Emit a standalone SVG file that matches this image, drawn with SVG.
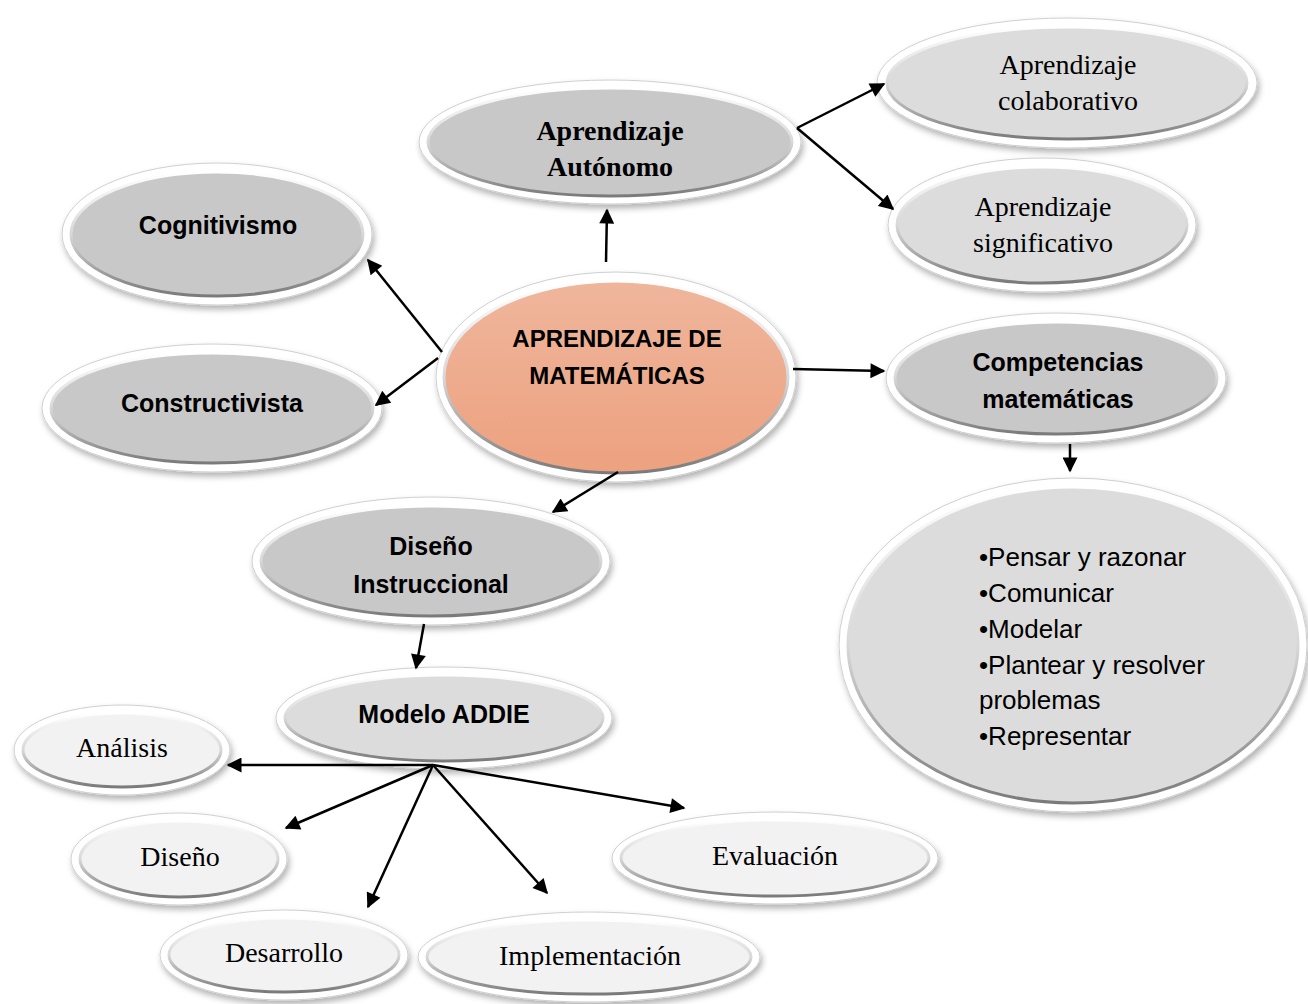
<svg xmlns="http://www.w3.org/2000/svg" width="1308" height="1004" viewBox="0 0 1308 1004">
<style>
.ring{fill:#ffffff;stroke:#cfcfcf;stroke-width:1;filter:url(#sh)}
.in{stroke:url(#bev);stroke-width:3}
.dark{fill:#c9c8c9}
.mid{fill:#dcdcdc}
.light{fill:#f2f2f2}
.main{fill:url(#salmon)}
.sb{font-family:"Liberation Sans",Arial,sans-serif;font-weight:bold;font-size:25px;fill:#000;text-anchor:middle}
.sr{font-family:"Liberation Sans",Arial,sans-serif;font-size:26px;fill:#000}
.tb{font-family:"Liberation Serif","Times New Roman",serif;font-weight:bold;font-size:28px;fill:#000;text-anchor:middle}
.tr{font-family:"Liberation Serif","Times New Roman",serif;font-size:28px;fill:#000;text-anchor:middle}
.ar{stroke:#000;stroke-width:2.5;fill:none;marker-end:url(#ah)}
</style>
<defs>
<filter id="sh" x="-10%" y="-10%" width="125%" height="130%">
<feDropShadow dx="2" dy="4" stdDeviation="3" flood-color="#000" flood-opacity="0.3"/>
</filter>
<linearGradient id="bev" x1="0" y1="0" x2="0" y2="1">
<stop offset="0" stop-color="#ffffff"/>
<stop offset="0.5" stop-color="#d8d8d8"/>
<stop offset="1" stop-color="#7a7a7a"/>
</linearGradient>
<linearGradient id="salmon" x1="0" y1="0" x2="0" y2="1">
<stop offset="0" stop-color="#efb69c"/>
<stop offset="1" stop-color="#eda17f"/>
</linearGradient>
<marker id="ah" viewBox="0 0 10 10" refX="9" refY="5" markerUnits="userSpaceOnUse" markerWidth="18" markerHeight="15" orient="auto">
<path d="M0,0 L10,5 L0,10 z" fill="#000"/>
</marker>
</defs>
<rect width="1308" height="1004" fill="#ffffff"/>

<g id="n-autonomo">
<ellipse class="ring" cx="610" cy="142" rx="191" ry="62"/>
<ellipse class="in dark" cx="610" cy="142" rx="182" ry="54"/>
<text class="tb" x="610" y="140">Aprendizaje</text>
<text class="tb" x="610" y="176">Autónomo</text>
</g>

<g id="n-colaborativo">
<ellipse class="ring" cx="1067" cy="83" rx="190" ry="65"/>
<ellipse class="in mid" cx="1067" cy="83" rx="180" ry="56"/>
<text class="tr" x="1068" y="74">Aprendizaje</text>
<text class="tr" x="1068" y="110">colaborativo</text>
</g>

<g id="n-significativo">
<ellipse class="ring" cx="1042" cy="225" rx="154" ry="67"/>
<ellipse class="in mid" cx="1042" cy="225" rx="145" ry="58"/>
<text class="tr" x="1043" y="216">Aprendizaje</text>
<text class="tr" x="1043" y="252">significativo</text>
</g>

<g id="n-cognitivismo">
<ellipse class="ring" cx="217" cy="234" rx="155" ry="71"/>
<ellipse class="in dark" cx="217" cy="234" rx="146" ry="62"/>
<text class="sb" x="218" y="234">Cognitivismo</text>
</g>

<g id="n-constructivista">
<ellipse class="ring" cx="212" cy="408" rx="170" ry="64"/>
<ellipse class="in dark" cx="212" cy="408" rx="161" ry="55"/>
<text class="sb" x="212" y="412">Constructivista</text>
</g>

<g id="n-main">
<ellipse class="ring" cx="616" cy="377" rx="180" ry="105"/>
<ellipse class="in main" cx="616" cy="377" rx="172" ry="96"/>
<text class="sb" x="617" y="347" style="font-size:24px">APRENDIZAJE DE</text>
<text class="sb" x="617" y="384" style="font-size:24px">MATEMÁTICAS</text>
</g>

<g id="n-competencias">
<ellipse class="ring" cx="1056" cy="378" rx="170" ry="65"/>
<ellipse class="in dark" cx="1056" cy="378" rx="161" ry="56"/>
<text class="sb" x="1058" y="371">Competencias</text>
<text class="sb" x="1058" y="408">matemáticas</text>
</g>

<g id="n-lista">
<ellipse class="ring" cx="1073" cy="645" rx="234" ry="167"/>
<ellipse class="in mid" cx="1073" cy="645" rx="225" ry="158"/>
<text class="sr" x="979" y="566">•Pensar y razonar</text>
<text class="sr" x="979" y="602">•Comunicar</text>
<text class="sr" x="979" y="638">•Modelar</text>
<text class="sr" x="979" y="674">•Plantear y resolver</text>
<text class="sr" x="979" y="709">problemas</text>
<text class="sr" x="979" y="745">•Representar</text>
</g>

<g id="n-diseno-instr">
<ellipse class="ring" cx="431" cy="561" rx="179" ry="64"/>
<ellipse class="in dark" cx="431" cy="561" rx="170" ry="55"/>
<text class="sb" x="431" y="555">Diseño</text>
<text class="sb" x="431" y="593">Instruccional</text>
</g>

<g id="n-addie">
<ellipse class="ring" cx="444" cy="718" rx="168" ry="51"/>
<ellipse class="in mid" cx="444" cy="718" rx="159" ry="43"/>
<text class="sb" x="444" y="723">Modelo ADDIE</text>
</g>

<g id="n-analisis">
<ellipse class="ring" cx="122" cy="750" rx="108" ry="45"/>
<ellipse class="in light" cx="122" cy="750" rx="99" ry="37"/>
<text class="tr" x="122" y="757">Análisis</text>
</g>

<g id="n-diseno">
<ellipse class="ring" cx="179" cy="859" rx="108" ry="46"/>
<ellipse class="in light" cx="179" cy="859" rx="99" ry="38"/>
<text class="tr" x="180" y="866">Diseño</text>
</g>

<g id="n-desarrollo">
<ellipse class="ring" cx="284" cy="955" rx="124" ry="45"/>
<ellipse class="in light" cx="284" cy="955" rx="115" ry="37"/>
<text class="tr" x="284" y="962">Desarrollo</text>
</g>

<g id="n-implementacion">
<ellipse class="ring" cx="589" cy="957" rx="171" ry="45"/>
<ellipse class="in light" cx="589" cy="957" rx="162" ry="37"/>
<text class="tr" x="590" y="965">Implementación</text>
</g>

<g id="n-evaluacion">
<ellipse class="ring" cx="775" cy="858" rx="163" ry="46"/>
<ellipse class="in light" cx="775" cy="858" rx="154" ry="38"/>
<text class="tr" x="775" y="865">Evaluación</text>
</g>

<g id="connectors">
<line class="ar" x1="606" y1="262" x2="607" y2="210"/>
<line class="ar" x1="797" y1="128" x2="884" y2="84"/>
<line class="ar" x1="797" y1="128" x2="893" y2="209"/>
<line class="ar" x1="442" y1="352" x2="368" y2="260"/>
<line class="ar" x1="438" y1="358" x2="376" y2="405"/>
<line class="ar" x1="793" y1="369" x2="884" y2="371"/>
<line class="ar" x1="1070" y1="444" x2="1070" y2="471"/>
<line class="ar" x1="618" y1="472" x2="553" y2="512"/>
<line class="ar" x1="424" y1="624" x2="416" y2="668"/>
<line class="ar" x1="433" y1="765" x2="228" y2="765"/>
<line class="ar" x1="433" y1="765" x2="286" y2="828"/>
<line class="ar" x1="433" y1="765" x2="368" y2="907"/>
<line class="ar" x1="433" y1="765" x2="547" y2="893"/>
<line class="ar" x1="433" y1="765" x2="684" y2="808"/>
</g>
</svg>
